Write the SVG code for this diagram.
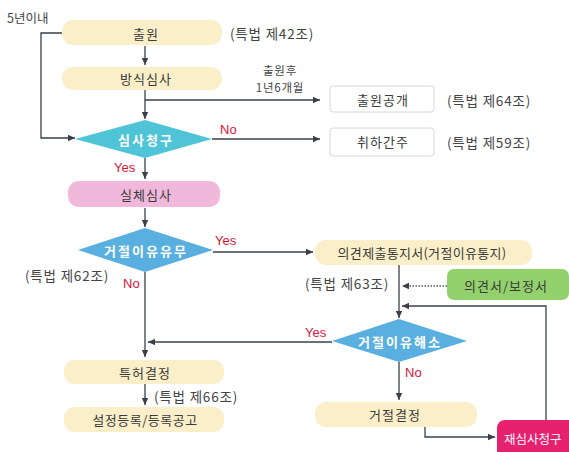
<svg xmlns="http://www.w3.org/2000/svg" width="569" height="452" viewBox="0 0 569 452">
<defs>
<marker id="ah" markerWidth="8" markerHeight="8" refX="7" refY="4" orient="auto" markerUnits="userSpaceOnUse">
<path d="M0,0.8 L7,4 L0,7.2 Z" fill="#3a3f4a"/>
</marker>
<style>
text{font-family:"Noto Sans CJK KR","Noto Sans",sans-serif;}
.t{font-size:13px;fill:#3a3a3a;text-anchor:middle;dominant-baseline:central;letter-spacing:1px;}
.w{font-size:13px;fill:#ffffff;text-anchor:middle;dominant-baseline:central;font-weight:bold;letter-spacing:2px;}
.l{font-size:13.5px;fill:#444;dominant-baseline:central;letter-spacing:0.8px;}
.s{font-size:11.5px;fill:#444;dominant-baseline:central;text-anchor:middle;letter-spacing:0.8px;}
.r{font-size:13px;fill:#d8143a;font-family:"Liberation Sans",Arial,sans-serif;dominant-baseline:central;}
.pill{fill:#fbefc9;}
.box{fill:#ffffff;stroke:#d8d8d8;stroke-width:1;}
.a{fill:none;stroke:#3a3f4a;stroke-width:1.3;marker-end:url(#ah);}
.d{fill:none;stroke:#555;stroke-width:1.3;stroke-dasharray:1.5,1.5;marker-end:url(#ah);}
</style>
</defs>
<rect width="569" height="452" fill="#ffffff"/>

<g id="connectors">
<path class="a" d="M62,33 H41 V138 H75"/>
<path class="a" d="M145,46 V65"/>
<path class="a" d="M145,90 V119"/>
<path class="a" d="M145,100 H320"/>
<path class="a" d="M212,139 H320"/>
<path class="a" d="M145,158 V179"/>
<path class="a" d="M145,208 V227"/>
<path class="a" d="M213,252 H313"/>
<path class="a" d="M145,272 V357"/>
<path class="a" d="M399,265 V318"/>
<path class="d" d="M447,286 H402"/>
<path class="a" d="M546,420 V306 H402"/>
<path class="a" d="M332,342 H148"/>
<path class="a" d="M399,362 V400"/>
<path class="a" d="M425,427 V437 H495"/>
<path class="a" d="M145,384 V405"/>
</g>

<text class="l" x="7" y="17" style="font-size:12.5px;letter-spacing:0">5년이내</text>

<g id="n-chulwon">
<rect class="pill" x="62" y="20" width="160" height="25" rx="11"/>
<text class="t" x="146" y="33">출원</text>
<text class="l" x="230" y="33">(특법 제42조)</text>
</g>

<g id="n-bangsik">
<rect class="pill" x="62" y="67" width="160" height="23" rx="11"/>
<text class="t" x="146" y="78">방식심사</text>
<text class="s" x="280" y="70">출원후</text>
<text class="s" x="280" y="87">1년6개월</text>
</g>

<g id="n-gonggae">
<rect class="box" x="330" y="86" width="104" height="26" rx="3"/>
<text class="t" x="383" y="99">출원공개</text>
<text class="l" x="447" y="100">(특법 제64조)</text>
</g>

<g id="n-simsa">
<polygon points="75,139 145,120 212,139 145,158" fill="#4fc4d6"/>
<text class="w" x="146" y="139">심사청구</text>
<text class="r" x="220" y="129">No</text>
<text class="r" x="114" y="167">Yes</text>
</g>

<g id="n-chwiha">
<rect class="box" x="330" y="128" width="104" height="28" rx="3"/>
<text class="t" x="383" y="141">취하간주</text>
<text class="l" x="447" y="142">(특법 제59조)</text>
</g>

<g id="n-silche">
<rect x="68" y="181" width="152" height="26" rx="11" fill="#f0b8da"/>
<text class="t" x="146" y="194">실체심사</text>
</g>

<g id="n-geojeol">
<polygon points="78,250 145,228 213,250 145,272" fill="#58afe0"/>
<text class="w" x="146" y="250">거절이유유무</text>
<text class="r" x="215" y="240">Yes</text>
<text class="l" x="25" y="275">(특법 제62조)</text>
<text class="r" x="123" y="283">No</text>
</g>

<g id="n-uigyeon">
<rect class="pill" x="315" y="240" width="217" height="25" rx="11"/>
<text class="t" x="422" y="252" style="letter-spacing:0.3px">의견제출통지서(거절이유통지)</text>
<text class="l" x="305" y="283">(특법 제63조)</text>
</g>

<g id="n-bojeong">
<rect x="447" y="269" width="122" height="31" rx="7" fill="#92d16c"/>
<text class="t" x="506" y="285">의견서/보정서</text>
</g>

<g id="n-haeso">
<polygon points="332,341 399,319 467,341 399,362" fill="#58afe0"/>
<text class="w" x="400" y="341">거절이유해소</text>
<text class="r" x="305" y="332">Yes</text>
<text class="r" x="405" y="372">No</text>
</g>

<g id="n-teukheo">
<rect class="pill" x="64" y="360" width="160" height="24" rx="11"/>
<text class="t" x="145" y="372">특허결정</text>
<text class="l" x="154" y="396">(특법 제66조)</text>
</g>

<g id="n-deungrok">
<rect class="pill" x="64" y="407" width="160" height="25" rx="11"/>
<text class="t" x="145" y="419" style="letter-spacing:0.5px">설정등록/등록공고</text>
</g>

<g id="n-geojeolgyeoljeong">
<rect class="pill" x="315" y="402" width="162" height="25" rx="11"/>
<text class="t" x="395" y="414">거절결정</text>
</g>

<g id="n-jaesimsa">
<rect x="497" y="420" width="90" height="40" rx="8" fill="#e6216f"/>
<text x="504" y="438" style="font-size:12.5px;fill:#ffffff;dominant-baseline:central;">재심사청구</text>
</g>
</svg>
